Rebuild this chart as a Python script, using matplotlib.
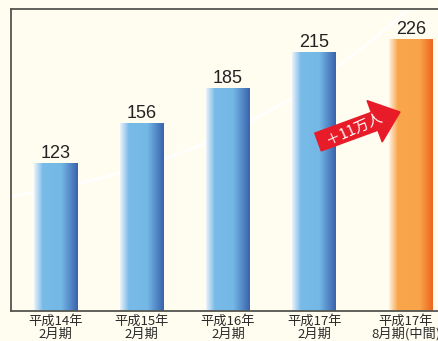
import numpy as np
import matplotlib
matplotlib.use("Agg")
import matplotlib.pyplot as plt
import matplotlib.transforms as mtransforms
from matplotlib.colors import LinearSegmentedColormap
from matplotlib.patches import FancyArrow
from matplotlib.path import Path
from matplotlib.patches import PathPatch

# data
labels = ["平成14年\n2月期", "平成15年\n2月期", "平成16年\n2月期", "平成17年\n2月期", "平成17年\n8月期(中間)"]
values = [123, 156, 185, 215, 226]
positions = [0, 1, 2, 3, 4.12]
increase_text = "＋11万人"

plt.rcParams['font.family'] = ['Noto Sans CJK JP', 'DejaVu Sans']

bg = '#fffdf0'
fig = plt.figure(figsize=(4.39, 3.41), dpi=100, facecolor=bg)
ax = fig.add_axes([11 / 439, 30 / 341, 1 - 11 / 439 + 0.02, 302 / 341])
ax.set_facecolor(bg)

# decorative white curve behind the bars
verts = [(0.0, 0.38), (0.55, 0.5), (0.78, 0.85), (0.93, 1.02)]
curve = PathPatch(Path(verts, [Path.MOVETO, Path.CURVE4, Path.CURVE4, Path.CURVE4]),
                  transform=ax.transAxes, facecolor='none', edgecolor='white', lw=1.8, zorder=1)
ax.add_patch(curve)

blue = LinearSegmentedColormap.from_list('b', [(0, '#eef3fa'), (0.2, '#78bbe8'), (0.62, '#74b8e6'), (1, '#3a62ad')])
orange = LinearSegmentedColormap.from_list('o', [(0, '#fff2e2'), (0.2, '#f9a64b'), (0.7, '#f9a44a'), (1, '#ee6420')])

width = 0.51
bars = ax.bar(positions, values, width=width, color='none', zorder=2)
grad = np.linspace(0, 1, 256).reshape(1, -1)
for i, b in enumerate(bars):
    cmap = orange if i == len(bars) - 1 else blue
    x0 = b.get_x()
    im = ax.imshow(grad, cmap=cmap, aspect='auto', extent=(x0, x0 + width, 0, b.get_height()),
                   zorder=2, interpolation='bilinear')
    im.set_clip_path(b)
    ax.text(positions[i], values[i] + 0.8, str(values[i]), ha='center', va='bottom',
            fontsize=13, family='Liberation Sans', color='#222222', zorder=3)

ax.set_xlim(-0.518, 4.55)
ax.set_ylim(0, 250.7)
ax.set_xticks(positions)
ax.set_xticklabels(labels, fontsize=9.5, color='#2a2a2a', linespacing=1.0)
ax.tick_params(axis='x', length=0, pad=2.5)
ax.set_yticks([])
for s in ['left', 'bottom', 'top']:
    ax.spines[s].set_color('#555550')
    ax.spines[s].set_linewidth(1.3)
ax.spines['right'].set_visible(False)

# nudge the last label left a little so it sits like the original
last = ax.get_xticklabels()[-1]
last.set_transform(last.get_transform() + mtransforms.ScaledTranslation(-0.05, 0, fig.dpi_scale_trans))

# red arrow with the increase label
arrow = FancyArrow(3.18, 1.99, 0.82, 0.30, width=0.19, head_width=0.44, head_length=0.27,
                   length_includes_head=True, color='#e81c28', transform=fig.dpi_scale_trans, zorder=5)
fig.patches.append(arrow)
fig.text(3.54, 2.12, increase_text, transform=fig.dpi_scale_trans, color='white', fontsize=10.5,
         rotation=24, ha='center', va='center', zorder=6)

fig.savefig('out.png', dpi=100, facecolor=bg)
